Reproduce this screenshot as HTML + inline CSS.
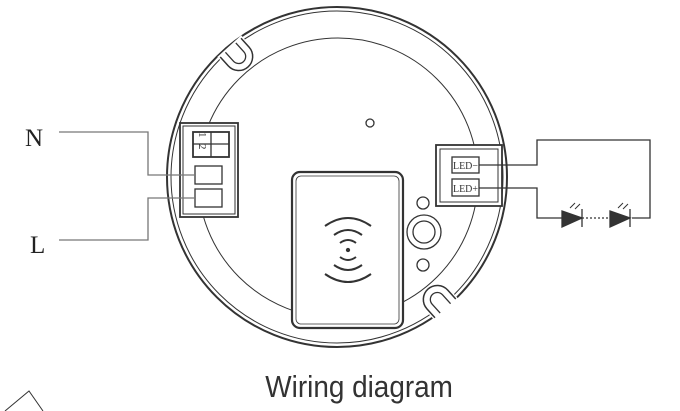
<!DOCTYPE html>
<html><head><style>body{margin:0;background:#fff}svg{display:block}</style></head><body>
<svg width="680" height="411" viewBox="0 0 680 411" xmlns="http://www.w3.org/2000/svg" fill="none" stroke="#333" stroke-width="1.3">
<circle cx="337" cy="177" r="170" stroke-width="2"/>
<circle cx="337" cy="177" r="166" stroke-width="1"/>
<circle cx="338" cy="178" r="140" stroke-width="1"/>
<!-- notches -->
<g transform="rotate(-42 240 58)">
<rect x="224" y="42" width="32" height="22" fill="#fff" stroke="none"/>
<path d="M226 44V56A14 14 0 0 0 254 56V44" stroke-width="1.5"/>
<path d="M233 44V56A7 7 0 0 0 247 56V44" stroke-width="1.3"/>
</g>
<g transform="rotate(138 436 298)">
<rect x="420" y="282" width="32" height="22" fill="#fff" stroke="none"/>
<path d="M422 284V296A14 14 0 0 0 450 296V284" stroke-width="1.5"/>
<path d="M429 284V296A7 7 0 0 0 443 296V284" stroke-width="1.3"/>
</g>
<!-- left terminal -->
<rect x="180" y="123" width="58" height="94" fill="#fff" stroke-width="1.8"/>
<rect x="183" y="126" width="52" height="88" stroke-width="1"/>
<rect x="193" y="132" width="36" height="25" stroke-width="1.8"/>
<line x1="211" y1="132" x2="211" y2="157"/><line x1="193" y1="144" x2="229" y2="144"/>
<text x="196" y="139" font-family="Liberation Serif" font-size="11" fill="#333" stroke="none" transform="rotate(90 201 137)">1</text>
<text x="196" y="151" font-family="Liberation Serif" font-size="11" fill="#333" stroke="none" transform="rotate(90 201 149)">2</text>
<rect x="195" y="166" width="27" height="18"/>
<rect x="195" y="189" width="27" height="18"/>
<path d="M59 132H148V175H195M59 240H148V198H195" stroke="#777"/>
<text x="25" y="146" font-family="Liberation Serif" font-size="25" fill="#222" stroke="none">N</text>
<text x="30" y="253" font-family="Liberation Serif" font-size="25" fill="#222" stroke="none">L</text>
<!-- right terminal -->
<rect x="436" y="145" width="66" height="61" fill="#fff" stroke-width="1.8"/>
<rect x="440" y="149" width="58" height="53" stroke-width="1"/>
<rect x="452" y="157" width="27" height="16"/>
<rect x="452" y="179" width="27" height="17"/>
<path d="M479 165H537V140H650V218H632M479 188H537V218H562"/>
<text x="453" y="169" font-family="Liberation Serif" font-size="11" textLength="25" lengthAdjust="spacingAndGlyphs" fill="#333" stroke="none">LED−</text>
<text x="453" y="192" font-family="Liberation Serif" font-size="11" textLength="25" lengthAdjust="spacingAndGlyphs" fill="#333" stroke="none">LED+</text>
<path d="M562 211L582 218L562 227Z" fill="#333"/><line x1="582" y1="209" x2="582" y2="227"/>
<path d="M610 211L630 218L610 227Z" fill="#333"/><line x1="630" y1="209" x2="630" y2="227"/>
<line x1="582" y1="218" x2="610" y2="218" stroke-dasharray="2 2"/>
<path d="M570 208l5-5M575 209l5-5M618 208l5-5M623 209l5-5" stroke-width="1"/>
<!-- sensor -->
<rect x="292" y="172" width="111" height="156" rx="8" fill="#fff" stroke-width="2.2"/>
<rect x="296" y="176" width="103" height="148" rx="5" stroke-width="0.8"/>
<circle cx="348" cy="250" r="1.5" fill="#333"/>
<path d="M340 243Q348 237 356 243M334 235Q348 225 362 235M325 226Q348 210 371 226M340 257Q348 263 356 257M334 265Q348 275 362 265M325 274Q348 290 371 274" stroke-width="2"/>
<circle cx="370" cy="123" r="4"/>
<circle cx="423" cy="203" r="6"/>
<circle cx="424" cy="232" r="17"/><circle cx="424" cy="232" r="11"/>
<circle cx="423" cy="265" r="6"/>
<text x="399" y="397" text-anchor="middle" font-family="Liberation Sans" font-size="31" fill="#333" stroke="none" transform="scale(0.9 1)">Wiring diagram</text>
<path d="M5 411L29 391L43 411" stroke-width="1"/>
</svg>
</body></html>
